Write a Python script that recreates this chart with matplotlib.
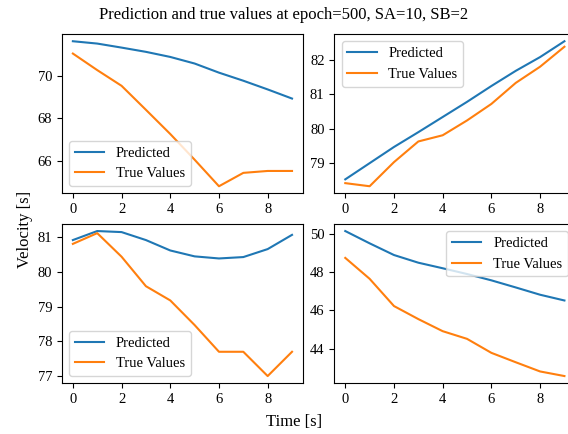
import numpy as np
import matplotlib
matplotlib.use("Agg")
import matplotlib.pyplot as plt

plt.rcParams['font.family'] = ['Liberation Serif', 'DejaVu Serif']
plt.rcParams['font.size'] = 10.5

time_steps = list(range(10))

pred_a = [71.63, 71.52, 71.33, 71.13, 70.89, 70.58, 70.15, 69.77, 69.36, 68.93]
true_a = [71.05, 70.27, 69.53, 68.40, 67.26, 66.05, 64.80, 65.43, 65.52, 65.52]

pred_b = [78.53, 79.00, 79.47, 79.90, 80.34, 80.78, 81.24, 81.68, 82.08, 82.54]
true_b = [78.42, 78.33, 79.03, 79.63, 79.81, 80.24, 80.72, 81.33, 81.80, 82.38]

pred_c = [80.92, 81.18, 81.15, 80.92, 80.62, 80.45, 80.39, 80.43, 80.66, 81.07]
true_c = [80.81, 81.12, 80.44, 79.59, 79.18, 78.47, 77.70, 77.70, 77.00, 77.70]

pred_d = [50.14, 49.50, 48.89, 48.49, 48.20, 47.90, 47.57, 47.20, 46.82, 46.52]
true_d = [48.74, 47.65, 46.23, 45.55, 44.92, 44.52, 43.79, 43.30, 42.82, 42.58]

panels = [(pred_a, true_a, 'lower left'),
          (pred_b, true_b, 'upper left'),
          (pred_c, true_c, 'lower left'),
          (pred_d, true_d, 'upper right')]

fig, axes = plt.subplots(2, 2, figsize=(5.68, 4.34), dpi=100)
fig.subplots_adjust(left=0.109, right=1.013, top=0.9217, bottom=0.1168,
                    wspace=0.13, hspace=0.19)

for ax, (pred, true, loc) in zip(axes.flat, panels):
    ax.plot(time_steps, pred, label='Predicted')
    ax.plot(time_steps, true, label='True Values')
    ax.set_xticks([0, 2, 4, 6, 8])
    ax.legend(loc=loc)

fig.suptitle('Prediction and true values at epoch=500, SA=10, SB=2', y=0.985, fontsize=12)
fig.supxlabel('Time [s]', x=0.5176, y=0.01, fontsize=12)
fig.supylabel('Velocity [s]', x=0.03, y=0.472, fontsize=12)

fig.savefig('out.png', dpi=100)
